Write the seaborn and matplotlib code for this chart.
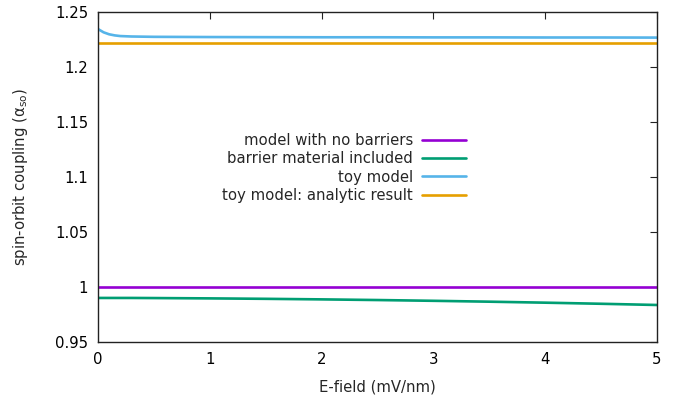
import matplotlib
matplotlib.use('Agg')
import matplotlib.pyplot as plt
import seaborn as sns
from matplotlib.ticker import FuncFormatter

# E-field (mV/nm)
efield = [0, 0.05, 0.1, 0.15, 0.2, 0.3, 0.5, 1.0, 1.5, 2.0, 2.5, 3.0, 3.5, 4.0, 4.5, 5.0]

no_barriers = [1.0] * len(efield)
barrier_included = [0.9900, 0.9900, 0.9900, 0.9900, 0.9900, 0.9900, 0.9899, 0.9896, 0.9892,
                    0.9887, 0.9881, 0.9874, 0.9866, 0.9857, 0.9847, 0.9836]
toy_model = [1.2345, 1.2315, 1.2297, 1.2287, 1.2281, 1.2277, 1.2274, 1.2272, 1.2271,
             1.2270, 1.2270, 1.2269, 1.2269, 1.2268, 1.2268, 1.2267]
toy_analytic = [1.2220] * len(efield)

labels = ['model with no barriers', 'barrier material included', 'toy model',
          'toy model: analytic result']
colors = ['#9400d3', '#009e73', '#56b4e9', '#e69f00']

sns.set_style('white')
plt.rcParams['font.family'] = ['DejaVu Sans']
fs = 10.7

fig = plt.figure(figsize=(6.78, 3.99), dpi=100)
ax = fig.add_axes([0.1445, 0.143, 0.8245, 0.827])

for ys, lab, col in zip([no_barriers, barrier_included, toy_model, toy_analytic], labels, colors):
    sns.lineplot(x=efield, y=ys, ax=ax, color=col, linewidth=1.9, label=lab)

ax.set_xlim(0, 5)
ax.set_ylim(0.95, 1.25)
ax.set_xticks([0, 1, 2, 3, 4, 5])
ax.set_yticks([0.95, 1.0, 1.05, 1.1, 1.15, 1.2, 1.25])
ax.yaxis.set_major_formatter(FuncFormatter(lambda v, p: '%g' % round(v, 2)))
ax.tick_params(direction='in', length=5, width=0.8, top=True, right=True,
               labelsize=fs, colors='#222222', labelcolor='black', pad=7)
for s in ax.spines.values():
    s.set_color('#222222')
    s.set_linewidth(1.0)

ax.set_xlabel('E-field (mV/nm)', fontsize=fs, labelpad=9)
ax.set_ylabel('spin-orbit coupling (α$_{\\mathrm{so}}$)', fontsize=fs, labelpad=18)

leg = ax.legend(loc='center', bbox_to_anchor=(0.44, 0.527), frameon=False, markerfirst=False,
                fontsize=fs, handlelength=2.95, labelspacing=0.22, handletextpad=0.6)
for t in leg.get_texts():
    t.set_ha('right')
leg._legend_box.align = 'right'

fig.savefig('out.png', dpi=100)
